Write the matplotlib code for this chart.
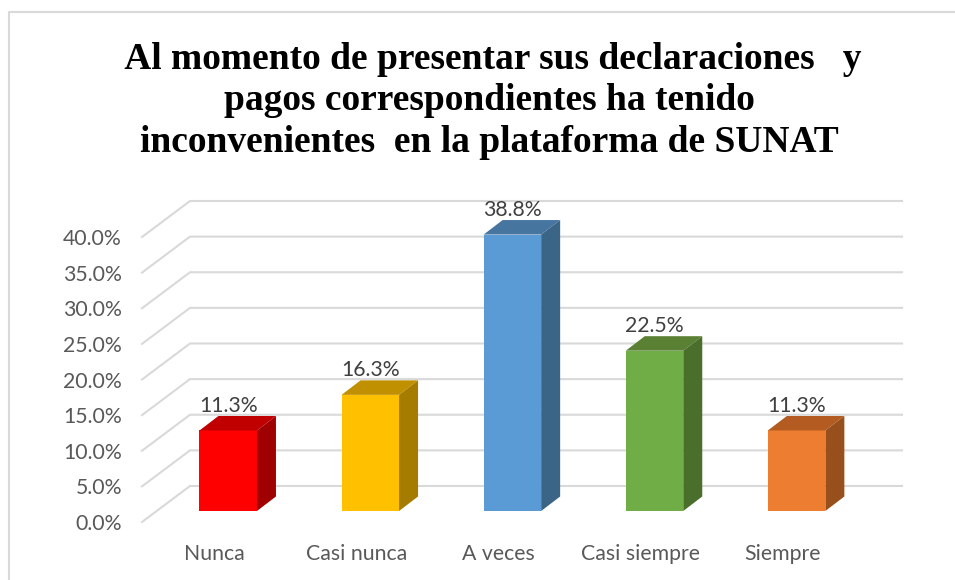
import matplotlib
matplotlib.use('Agg')
import matplotlib.pyplot as plt
from matplotlib.lines import Line2D

categories = ['Nunca', 'Casi nunca', 'A veces', 'Casi siempre', 'Siempre']
values = [11.3, 16.3, 38.8, 22.5, 11.3]
grid_ticks = [0, 5, 10, 15, 20, 25, 30, 35, 40]
tick_labels = ['0.0%', '5.0%', '10.0%', '15.0%', '20.0%', '25.0%', '30.0%', '35.0%', '40.0%']
title_text = (' Al momento de presentar sus declaraciones   y\n'
              'pagos correspondientes ha tenido\n'
              'inconvenientes  en la plataforma de SUNAT')

front_colors = ['#FF0000', '#FFC000', '#5B9BD5', '#70AD47', '#ED7D31']
top_colors = ['#C00000', '#C09000', '#4675A0', '#5A8034', '#B45B22']
side_colors = ['#A00000', '#A67C00', '#3A6587', '#4A6E2B', '#97501B']

W, H = 955, 580
fig = plt.figure(figsize=(W / 100, H / 100), dpi=100)
fig.patch.set_facecolor('white')

# back wall of the 3D box, in pixels
left, right = 190, 902
y_zero, y_forty = 486, 201
px_per_pct = (y_zero - y_forty) / 40
px_per_cat = 142.1
x_first = 228.2

ax = fig.add_axes([left / W, 1 - y_zero / H, (right - left) / W, (y_zero - y_forty) / H])
ax.set_xlim((left - x_first) / px_per_cat, (right - x_first) / px_per_cat)
ax.set_ylim(0, 40)
ax.axis('off')

# front axes only carries the tick labels
front = fig.add_axes([(left - 14) / W, 1 - (y_zero + 36) / H, (right - left) / W, (y_zero - y_forty) / H])
front.set_xlim(ax.get_xlim())
front.set_ylim(0, 40)
front.patch.set_alpha(0)
for s in front.spines.values():
    s.set_visible(False)
front.set_xticks(range(len(categories)), categories)
front.set_yticks(grid_ticks, tick_labels)
front.tick_params(axis='y', length=0, pad=39, labelsize=15.3, labelcolor='#595959')
front.tick_params(axis='x', length=0, pad=16, labelsize=15.3, labelcolor='#595959')
for lab in front.get_xticklabels() + front.get_yticklabels():
    lab.set_fontfamily('Lato')

grid_color = '#D9D9D9'
x0, x1 = ax.get_xlim()
wall_dx = 48 / px_per_cat
wall_dy = 36 / px_per_pct
for t in grid_ticks:
    ax.plot([x0 - wall_dx, x0, x1], [t - wall_dy, t, t], color=grid_color, lw=1.5,
            clip_on=False, zorder=1, solid_joinstyle='miter')

# bars: front face plus top and side faces
bar_w = 57.5 / px_per_cat
floor = -25 / px_per_pct
depth_x = 19 / px_per_cat
depth_y = 14.5 / px_per_pct

ax.bar(range(len(values)), values, width=bar_w, bottom=floor, color=front_colors,
       clip_on=False, zorder=3)
for i, v in enumerate(values):
    xl = i - bar_w / 2
    xr = i + bar_w / 2
    top = floor + v
    ax.fill([xl, xr, xr + depth_x, xl + depth_x], [top, top, top + depth_y, top + depth_y],
            color=top_colors[i], lw=0, clip_on=False, zorder=3)
    ax.fill([xr, xr + depth_x, xr + depth_x, xr], [floor, floor + depth_y, top + depth_y, top],
            color=side_colors[i], lw=0, clip_on=False, zorder=3)
    ax.annotate(f'{v:.1f}%', (i, top), xytext=(0, 13.5), textcoords='offset points',
                ha='center', va='baseline', fontsize=15.3, color='#404040',
                family='Lato', annotation_clip=False, zorder=4)

fig.text(489 / W, 1 - 101 / H, title_text, ha='center', va='center', fontsize=27,
         fontweight='bold', family='Liberation Serif', color='black', linespacing=1.24)

# chart border
fig.add_artist(Line2D([8.5 / W, 8.5 / W, 1], [0, 1 - 12 / H, 1 - 12 / H], color=grid_color, lw=1.5))

fig.savefig('out.png', dpi=100)
